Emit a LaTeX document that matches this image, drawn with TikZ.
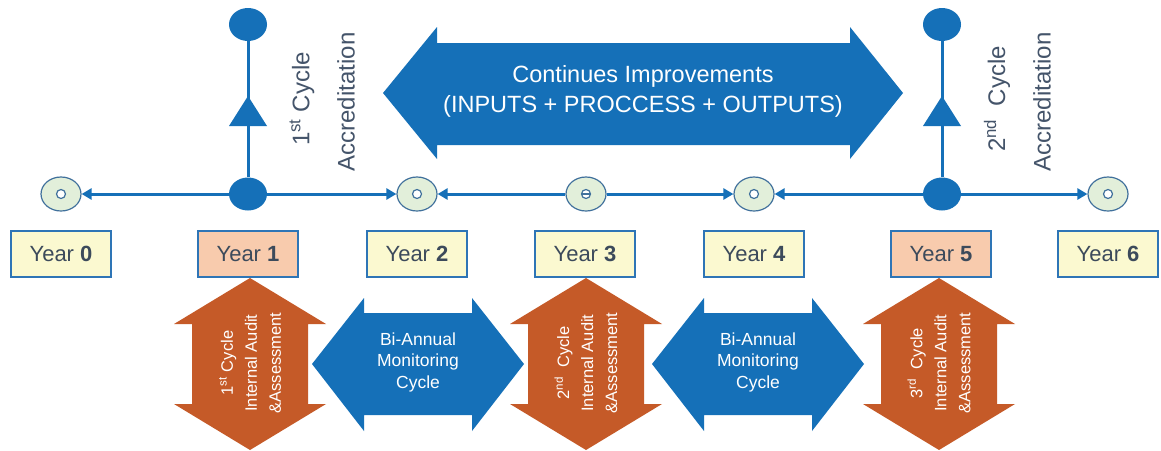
\documentclass[tikz,border=0pt]{standalone}
\usepackage{fontspec}
\setmainfont{Liberation Sans}
\usetikzlibrary{arrows.meta,shapes.geometric,calc}
\definecolor{mblue}{RGB}{21,112,184}
\definecolor{morange}{RGB}{197,90,40}
\definecolor{yfill}{RGB}{251,249,208}
\definecolor{ofill}{RGB}{248,203,173}
\definecolor{bborder}{RGB}{46,117,182}
\definecolor{cfill}{RGB}{226,239,218}
\definecolor{cborder}{RGB}{65,113,156}
\definecolor{txt}{RGB}{60,74,91}
\definecolor{acc}{RGB}{68,84,106}
\newcommand\oarr[3]{%
  \fill[morange] (#1,278) -- ({#1+76},324) -- ({#1+58},324) -- ({#1+58},404) -- ({#1+76},404)
    -- (#1,450) -- ({#1-76},404) -- ({#1-58},404) -- ({#1-58},324) -- ({#1-76},324) -- cycle;
  \node[otext] (#2) at (#1,363) {#3};}
\newcommand\barr[3]{%
  \fill[mblue] ({#1-106},364) -- ({#1-54},298) -- ({#1-54},313) -- ({#1+54},313) -- ({#1+54},298)
    -- ({#1+106},364) -- ({#1+54},431) -- ({#1+54},415) -- ({#1-54},415) -- ({#1-54},431) -- cycle;
  \node[btext] (#2) at (#1,362) {#3};}
\begin{document}
\begin{tikzpicture}[x=1pt,y=-1pt,
  yearbox/.style={draw=bborder, line width=1.3pt, minimum width=100pt, minimum height=46pt,
    inner sep=0pt, font=\fontsize{22}{26}\selectfont, text=txt},
  ycircle/.style={ellipse, draw=cborder, fill=cfill, line width=1.2pt, minimum width=40pt,
    minimum height=34pt, inner sep=0pt},
  bdot/.style={ellipse, fill=mblue, minimum width=38pt, minimum height=33pt, inner sep=0pt},
  tl/.style={draw=mblue, line width=3pt, -{Triangle[length=10pt,width=11pt]}},
  ring/.style={draw=cborder, fill=white, line width=1.2pt},
  acctext/.style={rotate=90, text=acc, font=\fontsize{24}{28}\selectfont, inner sep=0pt},
  otext/.style={rotate=90, text=white, align=center, font=\fontsize{16.5}{24}\selectfont, inner sep=0pt},
  btext/.style={text=white, align=center, font=\fontsize{17.5}{21.5}\selectfont, inner sep=0pt},
  mtext/.style={text=white, align=center, font=\fontsize{23.5}{30}\selectfont, inner sep=0pt}
]
\useasboundingbox[fill=white] (0,0) rectangle (1161,450);

% big double arrow
\fill[mblue] (383,93) -- (437,27) -- (437,43) -- (850,43) -- (850,27) -- (903,93)
  -- (850,159) -- (850,145) -- (437,145) -- (437,159) -- cycle;
\node[mtext] (ci) at (643,91) {Continues Improvements\\(INPUTS + PROCCESS + OUTPUTS)};

% timeline circles
\node[ycircle] (c0) at (61,194) {};
\node[bdot] (c1) at (248,194) {};
\node[ycircle] (c2) at (417,194) {};
\node[ycircle] (c3) at (586,194) {};
\node[ycircle] (c4) at (754,194) {};
\node[bdot] (c5) at (942,194) {};
\node[ycircle] (c6) at (1108,194) {};
\foreach \n in {c0,c2,c3,c4,c6} {\draw[ring] (\n) circle[radius=4.5pt];}
\draw[cborder, line width=1.2pt] ($(c3)+(-4.5,0)$) -- ($(c3)+(4.5,0)$);

\node[bdot] (t1) at (248,24.5) {};
\node[bdot] (t5) at (942,24.5) {};

% connectors
\draw[tl] (c1) -- (c0);
\draw[tl] (c1) -- (c2);
\draw[tl] (c3) -- (c2);
\draw[tl] (c3) -- (c4);
\draw[tl] (c5) -- (c4);
\draw[tl] (c5) -- (c6);
\draw[mblue, line width=3pt] (c1) -- (t1);
\draw[mblue, line width=3pt] (c5) -- (t5);
\fill[mblue] (248,96) -- (267,126) -- (229,126) -- cycle;
\fill[mblue] (942,96) -- (961,126) -- (923,126) -- cycle;

% accreditation labels
\node[acctext] (a1) at (302,99) {1\textsuperscript{st} Cycle};
\node[acctext] (a1b) at (346,102) {Accreditation};
\node[acctext] (a2) at (997,99) {2\textsuperscript{nd}\ \ Cycle};
\node[acctext] (a2b) at (1042,102) {Accreditation};

% year boxes
\node[yearbox, fill=yfill] (y0) at (61,254) {Year \textbf{0}};
\node[yearbox, fill=ofill] (y1) at (248,254) {Year \textbf{1}};
\node[yearbox, fill=yfill] (y2) at (417,254) {Year \textbf{2}};
\node[yearbox, fill=yfill] (y3) at (585,254) {Year \textbf{3}};
\node[yearbox, fill=yfill] (y4) at (754,254) {Year \textbf{4}};
\node[yearbox, fill=ofill] (y5) at (941,254) {Year \textbf{5}};
\node[yearbox, fill=yfill] (y6) at (1108,254) {Year \textbf{6}};

% lower arrows
\oarr{250}{o1}{1\textsuperscript{st} Cycle\\Internal Audit\\\&Assessment}
\oarr{586}{o2}{2\textsuperscript{nd}\ \ Cycle\\Internal Audit\\\&Assessment}
\oarr{939}{o3}{3\textsuperscript{rd}\ \ Cycle\\Internal Audit\\\&Assessment}
\barr{418}{b1}{Bi-Annual\\Monitoring\\Cycle}
\barr{758}{b2}{Bi-Annual\\Monitoring\\Cycle}
\end{tikzpicture}
\end{document}
